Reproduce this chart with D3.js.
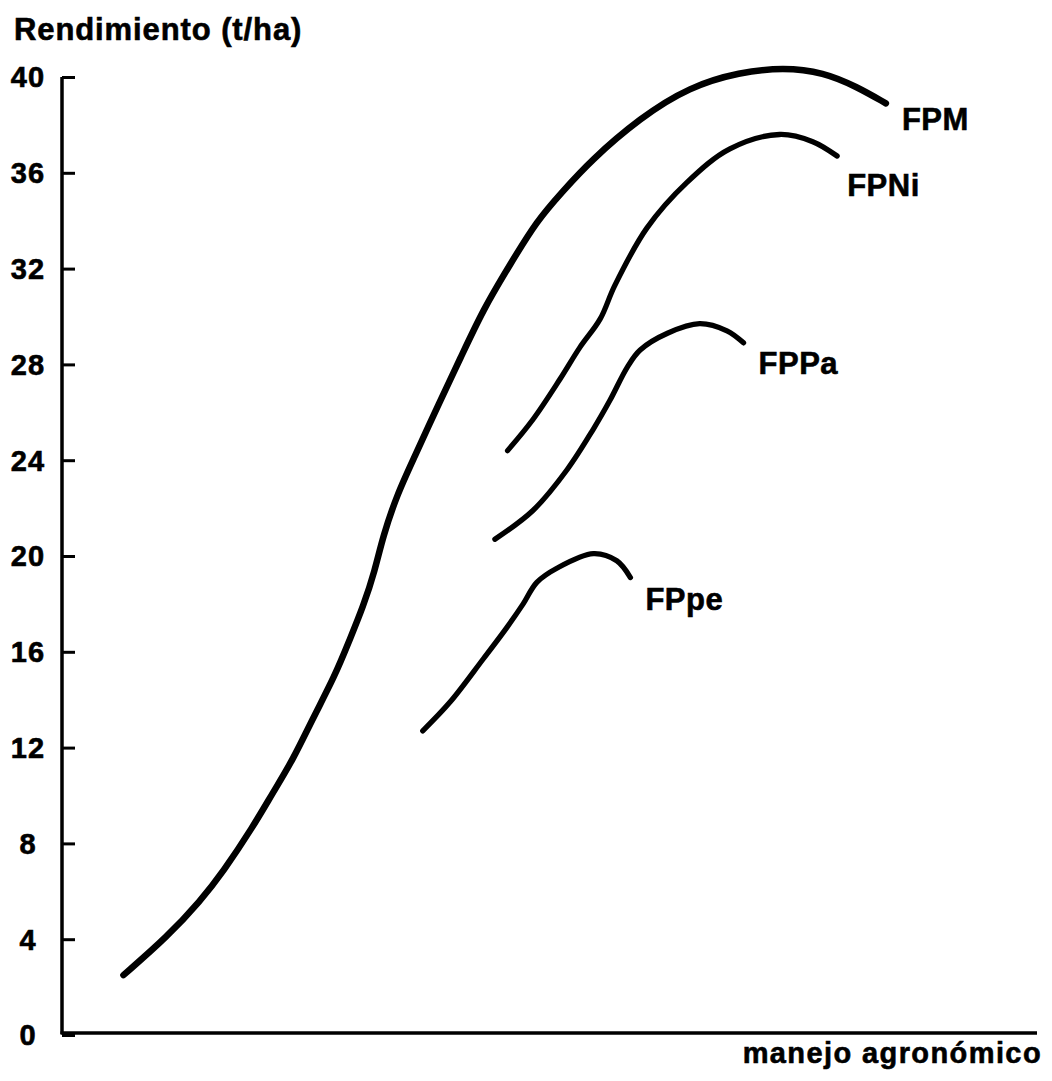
<!DOCTYPE html>
<html>
<head>
<meta charset="utf-8">
<script src="https://cdn.jsdelivr.net/npm/d3@7"></script>
<style>
  html, body { margin: 0; padding: 0; background: #fff; }
  svg { display: block; }
  text { font-family: "Liberation Sans", Arial, Helvetica, sans-serif; font-weight: bold; fill: #000; stroke: #000; stroke-width: 0.6px; }
</style>
</head>
<body>
<svg id="chart" width="1052" height="1081"></svg>
<script>
// ---- data ----
const yTicks = [0, 4, 8, 12, 16, 20, 24, 28, 32, 36, 40];
const yTitle = "Rendimiento (t/ha)";
const xTitle = "manejo agronómico";
const seriesNames = ["FPM", "FPNi", "FPPa", "FPpe"];

// x: relative level of agronomic management (arbitrary 0-100), y: yield t/ha
const fpmX  = [6.3, 10.8, 14.2, 16.5, 19.6, 21.6, 23.7, 25.7, 28.0, 29.5, 30.9, 32.1, 32.9, 34.4, 36.0, 38.8, 40.8, 43.2, 46.0, 48.7, 51.3, 54.2, 59.3, 64.4, 69.5, 74.0, 78.1, 81.5, 84.5];
const fpmY  = [2.5, 4.1, 5.6, 6.8, 8.7, 10.1, 11.5, 13.2, 15.0, 16.5, 17.9, 19.4, 20.8, 22.6, 24.0, 26.5, 28.2, 30.3, 32.2, 34.0, 35.2, 36.5, 38.3, 39.6, 40.2, 40.4, 40.2, 39.6, 38.9];
const fpniX = [45.7, 48.3, 51.1, 53.1, 55.2, 56.7, 60.0, 64.1, 68.5, 73.6, 77.0, 79.5];
const fpniY = [24.4, 25.7, 27.4, 28.7, 29.9, 31.3, 33.7, 35.6, 37.0, 37.6, 37.3, 36.7];
const fppaX = [44.4, 48.3, 51.8, 54.5, 56.2, 58.0, 59.3, 62.1, 65.4, 68.2, 69.9];
const fppaY = [20.7, 21.9, 23.6, 25.3, 26.5, 27.9, 28.6, 29.3, 29.7, 29.4, 28.9];
const fppeX = [37.0, 39.8, 43.2, 45.6, 47.3, 48.7, 50.8, 54.5, 56.9, 58.3];
const fppeY = [12.7, 13.9, 15.7, 17.0, 18.0, 18.9, 19.5, 20.1, 19.8, 19.1];

const seriesX = [fpmX, fpniX, fppaX, fppeX];
const seriesY = [fpmY, fpniY, fppaY, fppeY];

// ---- layout ----
const svg = d3.select("#chart");
const x = d3.scaleLinear().domain([0, 100]).range([62, 1037]);
const y = d3.scaleLinear().domain([0, 40]).range([1035, 77]);

// y axis ticks (inward)
const yAxis = d3.axisRight(y).tickValues(yTicks).tickSize(13).tickFormat("");
const gy = svg.append("g").attr("transform", `translate(${x(0)},0)`).call(yAxis);
gy.select(".domain").remove();
gy.selectAll(".tick line").attr("stroke", "#000").attr("stroke-width", 3);

svg.append("line")
  .attr("x1", x(0)).attr("x2", x(0))
  .attr("y1", y(40)).attr("y2", 1034)
  .attr("stroke", "#000").attr("stroke-width", 3.5);
svg.append("line")
  .attr("x1", x(0) - 1.5).attr("x2", x(100))
  .attr("y1", 1033).attr("y2", 1033)
  .attr("stroke", "#000").attr("stroke-width", 3.5);

// tick labels
svg.append("g").selectAll("text").data(yTicks).join("text")
  .attr("x", 28)
  .attr("y", d => y(d))
  .attr("dy", "0.36em")
  .attr("text-anchor", "middle")
  .style("font-size", "29px")
  .style("letter-spacing", "1px")
  .text(d => d);

// titles
svg.append("text").attr("x", 14).attr("y", 40)
  .style("font-size", "31px").style("letter-spacing", "0.9px")
  .text(yTitle);
svg.append("text").attr("x", 1042).attr("y", 1063)
  .attr("text-anchor", "end")
  .style("font-size", "29px").style("letter-spacing", "1.4px")
  .text(xTitle);

// curves
const curves = [d3.curveBasis, d3.curveCatmullRom.alpha(0.5), d3.curveCatmullRom.alpha(0.5), d3.curveCatmullRom.alpha(0.5)];
const widths = [6.5, 5.3, 5.3, 5.3];
seriesX.forEach((xs, i) => {
  const pts = xs.map((v, j) => [x(v), y(seriesY[i][j])]);
  svg.append("path")
    .attr("d", d3.line().curve(curves[i])(pts))
    .attr("fill", "none")
    .attr("stroke", "#000")
    .attr("stroke-width", widths[i])
    .attr("stroke-linecap", "round")
    .attr("stroke-linejoin", "round");
});

// series labels next to curve ends
const labelOffsets = [[16, 27], [10, 40], [15, 31], [15, 32]];
seriesNames.forEach((name, i) => {
  const xs = seriesX[i], ys = seriesY[i];
  const ex = x(xs[xs.length - 1]), ey = y(ys[ys.length - 1]);
  svg.append("text")
    .attr("x", ex + labelOffsets[i][0])
    .attr("y", ey + labelOffsets[i][1])
    .style("font-size", "31px")
    .style("letter-spacing", "0.5px")
    .text(name);
});
</script>
</body>
</html>
